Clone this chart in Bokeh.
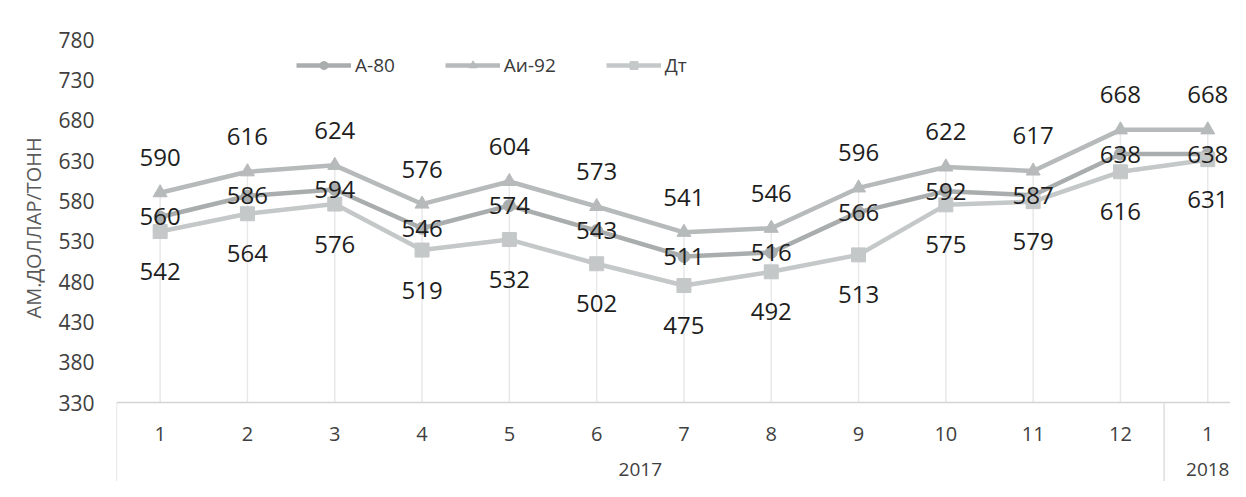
from bokeh.plotting import figure
from bokeh.models import Range1d, FixedTicker, ColumnDataSource, Legend, LegendItem, Title
from bokeh.core.properties import value
from bokeh.embed import file_html
from bokeh.resources import INLINE

# ---- data ----
months = ["1", "2", "3", "4", "5", "6", "7", "8", "9", "10", "11", "12", "1"]
years = ["2017", "2018"]
months_per_year = [12, 1]
a80 = [560, 586, 594, 546, 574, 543, 511, 516, 566, 592, 587, 638, 638]
ai92 = [590, 616, 624, 576, 604, 573, 541, 546, 596, 622, 617, 668, 668]
dt = [542, 564, 576, 519, 532, 502, 475, 492, 513, 575, 579, 616, 631]
y_ticks = [330, 380, 430, 480, 530, 580, 630, 680, 730, 780]
series_names = ["А-80", "Аи-92", "Дт"]
y_title = "АМ.ДОЛЛАР/ТОНН"

FONT = "Open Sans"
W, H = 1230, 481
BL, BT = 116, 39
cat_px = 87.3
frame_w = W - BL
frame_h = H - BT
y_min, y_max = y_ticks[0], y_ticks[-1]
k = 363.0 / (y_max - y_min)       # px per unit
y_start = y_max - frame_h / k

x = list(range(1, len(months) + 1))

p = figure(width=W, height=H, output_backend="svg", toolbar_location=None,
           x_range=Range1d(0.5, 0.5 + frame_w / cat_px),
           y_range=Range1d(y_start, y_max),
           min_border_left=BL, min_border_top=BT, min_border_right=0,
           min_border_bottom=0, x_axis_type=None)
p.outline_line_color = None
p.xgrid.visible = False
p.ygrid.visible = False
p.background_fill_color = "white"

ax = p.yaxis[0]
ax.ticker = FixedTicker(ticks=y_ticks)
ax.axis_line_color = None
ax.major_tick_line_color = None
ax.minor_tick_line_color = None
ax.major_tick_out = 0
ax.major_tick_in = 0
ax.major_label_standoff = 22
ax.major_label_text_font = FONT
ax.major_label_text_font_size = "21px"
ax.major_label_text_color = "#404040"

p.add_layout(Title(text=y_title, align="left", offset=163, standoff=18,
                   text_font=FONT, text_font_size="20px", text_font_style="normal",
                   text_color="#595959"), "left")

# drop lines
tops = [max(a, b, c) for a, b, c in zip(a80, ai92, dt)]
p.segment(x0=x, y0=[y_min] * len(x), x1=x, y1=tops, line_color="#e8e8e8", line_width=1.5)

# category axis area
bounds = [0.5]
for n in months_per_year:
    bounds.append(bounds[-1] + n)
p.segment(x0=[bounds[0]], y0=[y_min], x1=[bounds[-1]], y1=[y_min], line_color="#d4d4d4", line_width=1.3)
p.segment(x0=bounds, y0=[y_min] * len(bounds), x1=bounds, y1=[y_start] * len(bounds),
          line_color="#d9d9d9", line_width=1.3)

p.text(x=x, y=[y_min] * len(x), text=months, y_offset=31, text_align="center",
       text_baseline="middle", text_font=value(FONT), text_font_size="20px", text_color="#404040")
year_x = [(bounds[i] + bounds[i + 1]) / 2 for i in range(len(years))]
p.text(x=year_x, y=[y_min] * len(years), text=years, y_offset=67, text_align="center",
       text_baseline="middle", text_font=value(FONT), text_font_size="19px", text_color="#404040")

colors = ["#a9adad", "#b6baba", "#c5c8c8"]
markers = ["circle", "triangle", "square"]
msizes = [12, 14, 14]
vals = [a80, ai92, dt]
offsets = [0, -35, 40]

items = []
for name, v, c, m, ms in zip(series_names, vals, colors, markers, msizes):
    src = ColumnDataSource(dict(x=x, y=v))
    r1 = p.line("x", "y", source=src, line_color=c, line_width=4.5)
    r2 = p.scatter("x", "y", source=src, marker=m, size=ms, fill_color=c, line_color=c)
    items.append(LegendItem(label=name, renderers=[r1, r2]))

for v, off in zip(vals, offsets):
    p.text(x=x, y=v, text=[str(t) for t in v], y_offset=off, text_align="center",
           text_baseline="middle", text_font=value(FONT), text_font_size="24px",
           text_color="#1e1e1e")

legend = Legend(items=items, orientation="horizontal", location=(180, 403),
                glyph_width=55, glyph_height=20, label_text_font=FONT,
                label_text_font_size="19px", label_text_color="#3a3a3a",
                spacing=50, label_standoff=4, border_line_color=None,
                background_fill_alpha=0, padding=10, margin=0)
p.add_layout(legend)

open("out.html", "w").write(file_html(p, INLINE))
